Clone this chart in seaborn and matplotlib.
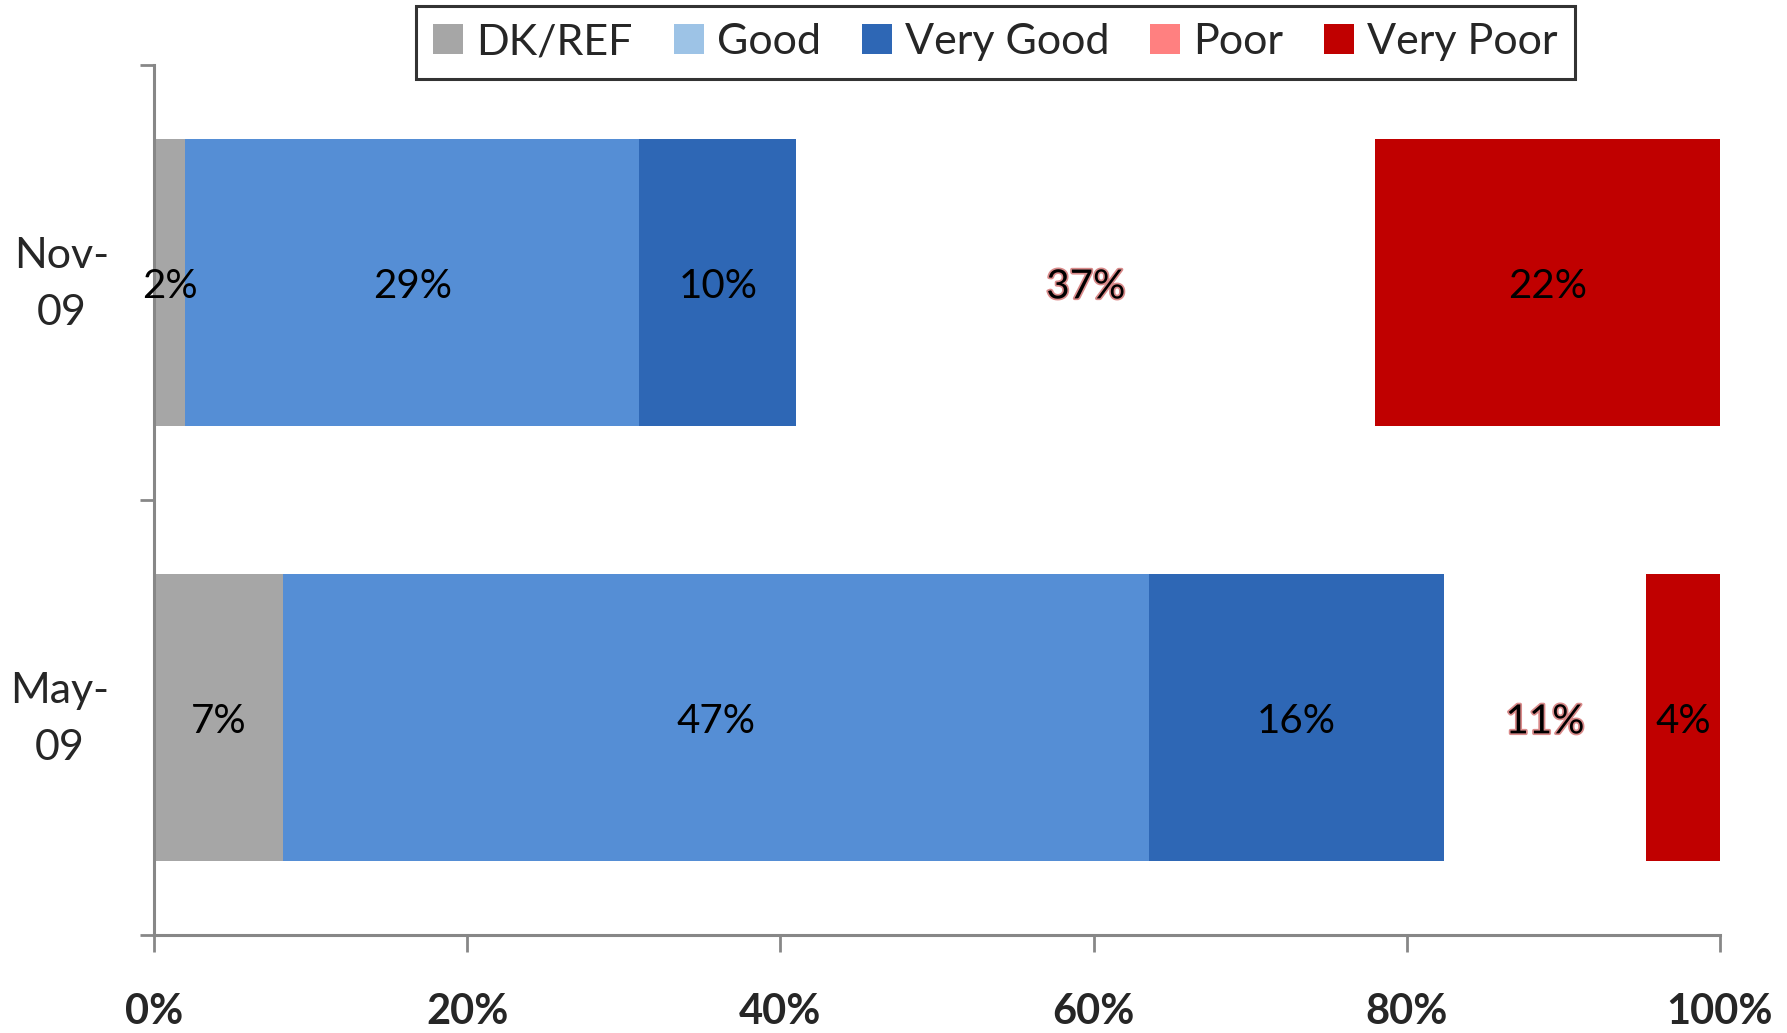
import numpy as np
import pandas as pd
import matplotlib
matplotlib.use("Agg")
import matplotlib.pyplot as plt
import matplotlib.patheffects as pe
from matplotlib.patches import Patch
from matplotlib.ticker import FixedLocator
import seaborn as sns

# data (raw survey percentages)
periods = ["Nov-09", "May-09"]
period_labels = ["Nov-\n09", "May-\n09"]
answers = ["DK/REF", "Good", "Very Good", "Poor", "Very Poor"]
nov_values = [2, 29, 10, 37, 22]
may_values = [7, 47, 16, 11, 4]
x_ticks = [0, 20, 40, 60, 80, 100]

bar_colors = ["#A6A6A6", "#558ED5", "#2E67B5", "#FFFFFF", "#C00000"]
legend_colors = ["#A6A6A6", "#9DC3E6", "#2E67B5", "#FF8080", "#C00000"]

sns.set_style("white")
plt.rcParams["font.family"] = ["Lato", "DejaVu Sans"]

raw = np.array([nov_values, may_values], dtype=float)
share = raw / raw.sum(axis=1, keepdims=True) * 100  # 100% stacked
cum = share.cumsum(axis=1)

fig = plt.figure(figsize=(17.87, 10.33), dpi=100)
ax = fig.add_axes([0.0862, 0.0949, 0.8763, 0.8421])

# stacked bars: draw cumulative totals from the largest down
for i in reversed(range(len(answers))):
    df = pd.DataFrame({"period": periods, "cum": cum[:, i]})
    sns.barplot(data=df, x="cum", y="period", order=periods, orient="h",
                color=bar_colors[i], saturation=1, width=0.66,
                errorbar=None, ax=ax, linewidth=0)

# segment labels
for r in range(len(periods)):
    start = 0
    for i in range(len(answers)):
        mid = start + share[r, i] / 2
        t = ax.text(mid, r + 0.01, f"{int(raw[r, i])}%", ha="center", va="center",
                    fontsize=29, color="black")
        if answers[i] == "Poor":
            t.set_path_effects([pe.withStroke(linewidth=2.5, foreground="#D98A8A")])
        start += share[r, i]

ax.set_xlim(0, 100)
ax.set_ylim(1.5, -0.5)
ax.set_xlabel("")
ax.set_ylabel("")

ax.set_xticks(x_ticks)
ax.set_xticklabels([f"{v}%" for v in x_ticks], fontsize=30, fontweight="bold")
# category labels sit slightly above the bar centre (tick marks are hidden)
ax.set_yticks([r - 0.025 for r in range(len(periods))])
ax.set_yticklabels(period_labels, fontsize=31, linespacing=1.6, ma="center")
ax.yaxis.set_minor_locator(FixedLocator([-0.5, 0.5, 1.5]))

spine_color = "#878787"
for s in ["top", "right"]:
    ax.spines[s].set_visible(False)
for s in ["left", "bottom"]:
    ax.spines[s].set_color(spine_color)
    ax.spines[s].set_linewidth(2.2)

ax.tick_params(axis="x", which="major", direction="out", length=12, width=2,
               color=spine_color, pad=30, bottom=True)
ax.tick_params(axis="y", which="major", length=0, pad=32)
ax.tick_params(axis="y", which="minor", direction="out", length=10, width=2,
               color=spine_color, left=True)

handles = [Patch(facecolor=c, edgecolor="none", label=a)
           for a, c in zip(answers, legend_colors)]
leg = fig.legend(handles=handles, loc="upper center", bbox_to_anchor=(0.557, 0.994),
                 ncol=5, fontsize=31, frameon=True, fancybox=False,
                 handlelength=0.7, handleheight=0.7, handletextpad=0.3,
                 columnspacing=0.95, borderpad=0.4, borderaxespad=0)
leg.get_frame().set_edgecolor("black")
leg.get_frame().set_linewidth(2.2)

fig.savefig("out.png", dpi=100)
